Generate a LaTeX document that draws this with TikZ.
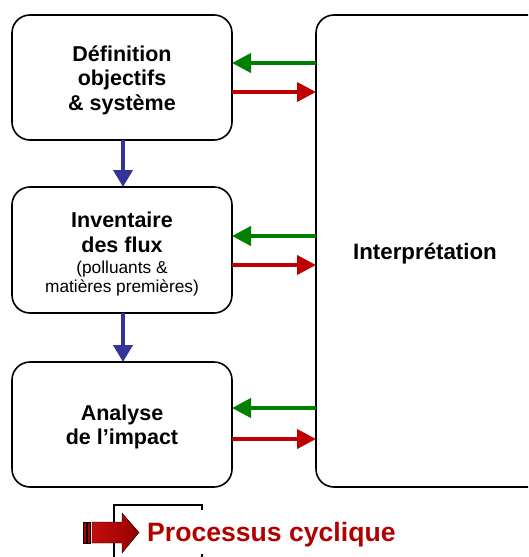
\documentclass[tikz,border=0pt]{standalone}
\usepackage{fontspec}
\setmainfont{Liberation Sans}
\usetikzlibrary{arrows.meta}
\definecolor{flowblue}{RGB}{51,51,153}
\definecolor{backgreen}{RGB}{0,128,0}
\definecolor{fwdred}{RGB}{192,0,0}
\definecolor{legred}{RGB}{176,0,0}
\begin{document}
\begin{tikzpicture}[x=1pt,y=-1pt,
  stage/.style={draw=black, line width=1.6pt, rounded corners=18pt, fill=white},
  title/.style={font=\bfseries\fontsize{21.5}{24.5}\selectfont, align=center},
  line/.style={anchor=base, inner sep=0pt},
  bline/.style={line, font=\bfseries\fontsize{21.5}{24.5}\selectfont},
  sline/.style={line, font=\fontsize{17.3}{20}\selectfont},
  down/.style={draw=flowblue, line width=4pt, -{Triangle[length=17pt,width=19pt]}},
  back/.style={draw=backgreen, line width=4pt, -{Triangle[length=19pt,width=19pt]}},
  fwd/.style={draw=fwdred, line width=4pt, -{Triangle[length=19pt,width=19pt]}}]
\useasboundingbox (0,0) rectangle (528,557);
% Interpretation box (extends past right edge)
\begin{scope}
\clip (0,0) rectangle (528,557);
\draw[stage] (316,15) rectangle (546,487);
\end{scope}
\node[bline, font=\bfseries\fontsize{22.3}{25}\selectfont] (interp) at (425,259) {Interprétation};
% stage boxes
\draw[stage] (12,15) rectangle (232,140);
\draw[stage] (12,187) rectangle (232,313);
\draw[stage] (12,362) rectangle (232,487);
\node[bline] (def1) at (122,61) {Définition};
\node[bline] (def2) at (122,85) {objectifs};
\node[bline] (def3) at (122,110) {\& système};
\node[bline] (inv1) at (122,227) {Inventaire};
\node[bline] (inv2) at (122,252) {des flux};
\node[sline] (inv3) at (122,273) {(polluants \&};
\node[sline] (inv4) at (122,292) {matières premières)};
\node[bline] (ana1) at (122,420) {Analyse};
\node[bline] (ana2) at (122,444) {de l’impact};
% coordinates for box edges
\coordinate (d1b) at (123,140); \coordinate (d2t) at (123,187);
\coordinate (d2b) at (123,313); \coordinate (d3t) at (123,362);
\draw[down] (d1b) -- (d2t);
\draw[down] (d2b) -- (d3t);
% feedback arrows
\foreach \g/\r [count=\i] in {63/92, 236/265, 408/439}{
  \coordinate (gs\i) at (316,\g); \coordinate (ge\i) at (232,\g);
  \coordinate (rs\i) at (232,\r); \coordinate (re\i) at (316,\r);
  \draw[back] (gs\i) -- (ge\i);
  \draw[fwd] (rs\i) -- (re\i);
}
% legend
\draw[black, line width=1.5pt] (114,557) -- (114,505) -- (202,505) -- (202,510);
\draw[black, line width=1.5pt] (202,554) -- (202,557);
\shade[left color=fwdred!95!white, right color=legred!85!black, draw=black, line width=0.4pt]
  (92,522) -- (122,522) -- (122,513) -- (139,532.5) -- (122,553) -- (122,543) -- (92,543) -- cycle;
\fill[fwdred!90!black, draw=black, line width=0.3pt] (83,522) rectangle (86,543);
\fill[fwdred!90!black, draw=black, line width=0.3pt] (87.5,522) rectangle (90.5,543);
\node[anchor=base west, inner sep=0pt, text=legred, font=\bfseries\fontsize{26.6}{30}\selectfont] (leg) at (147,541) {Processus cyclique};
\end{tikzpicture}
\end{document}
